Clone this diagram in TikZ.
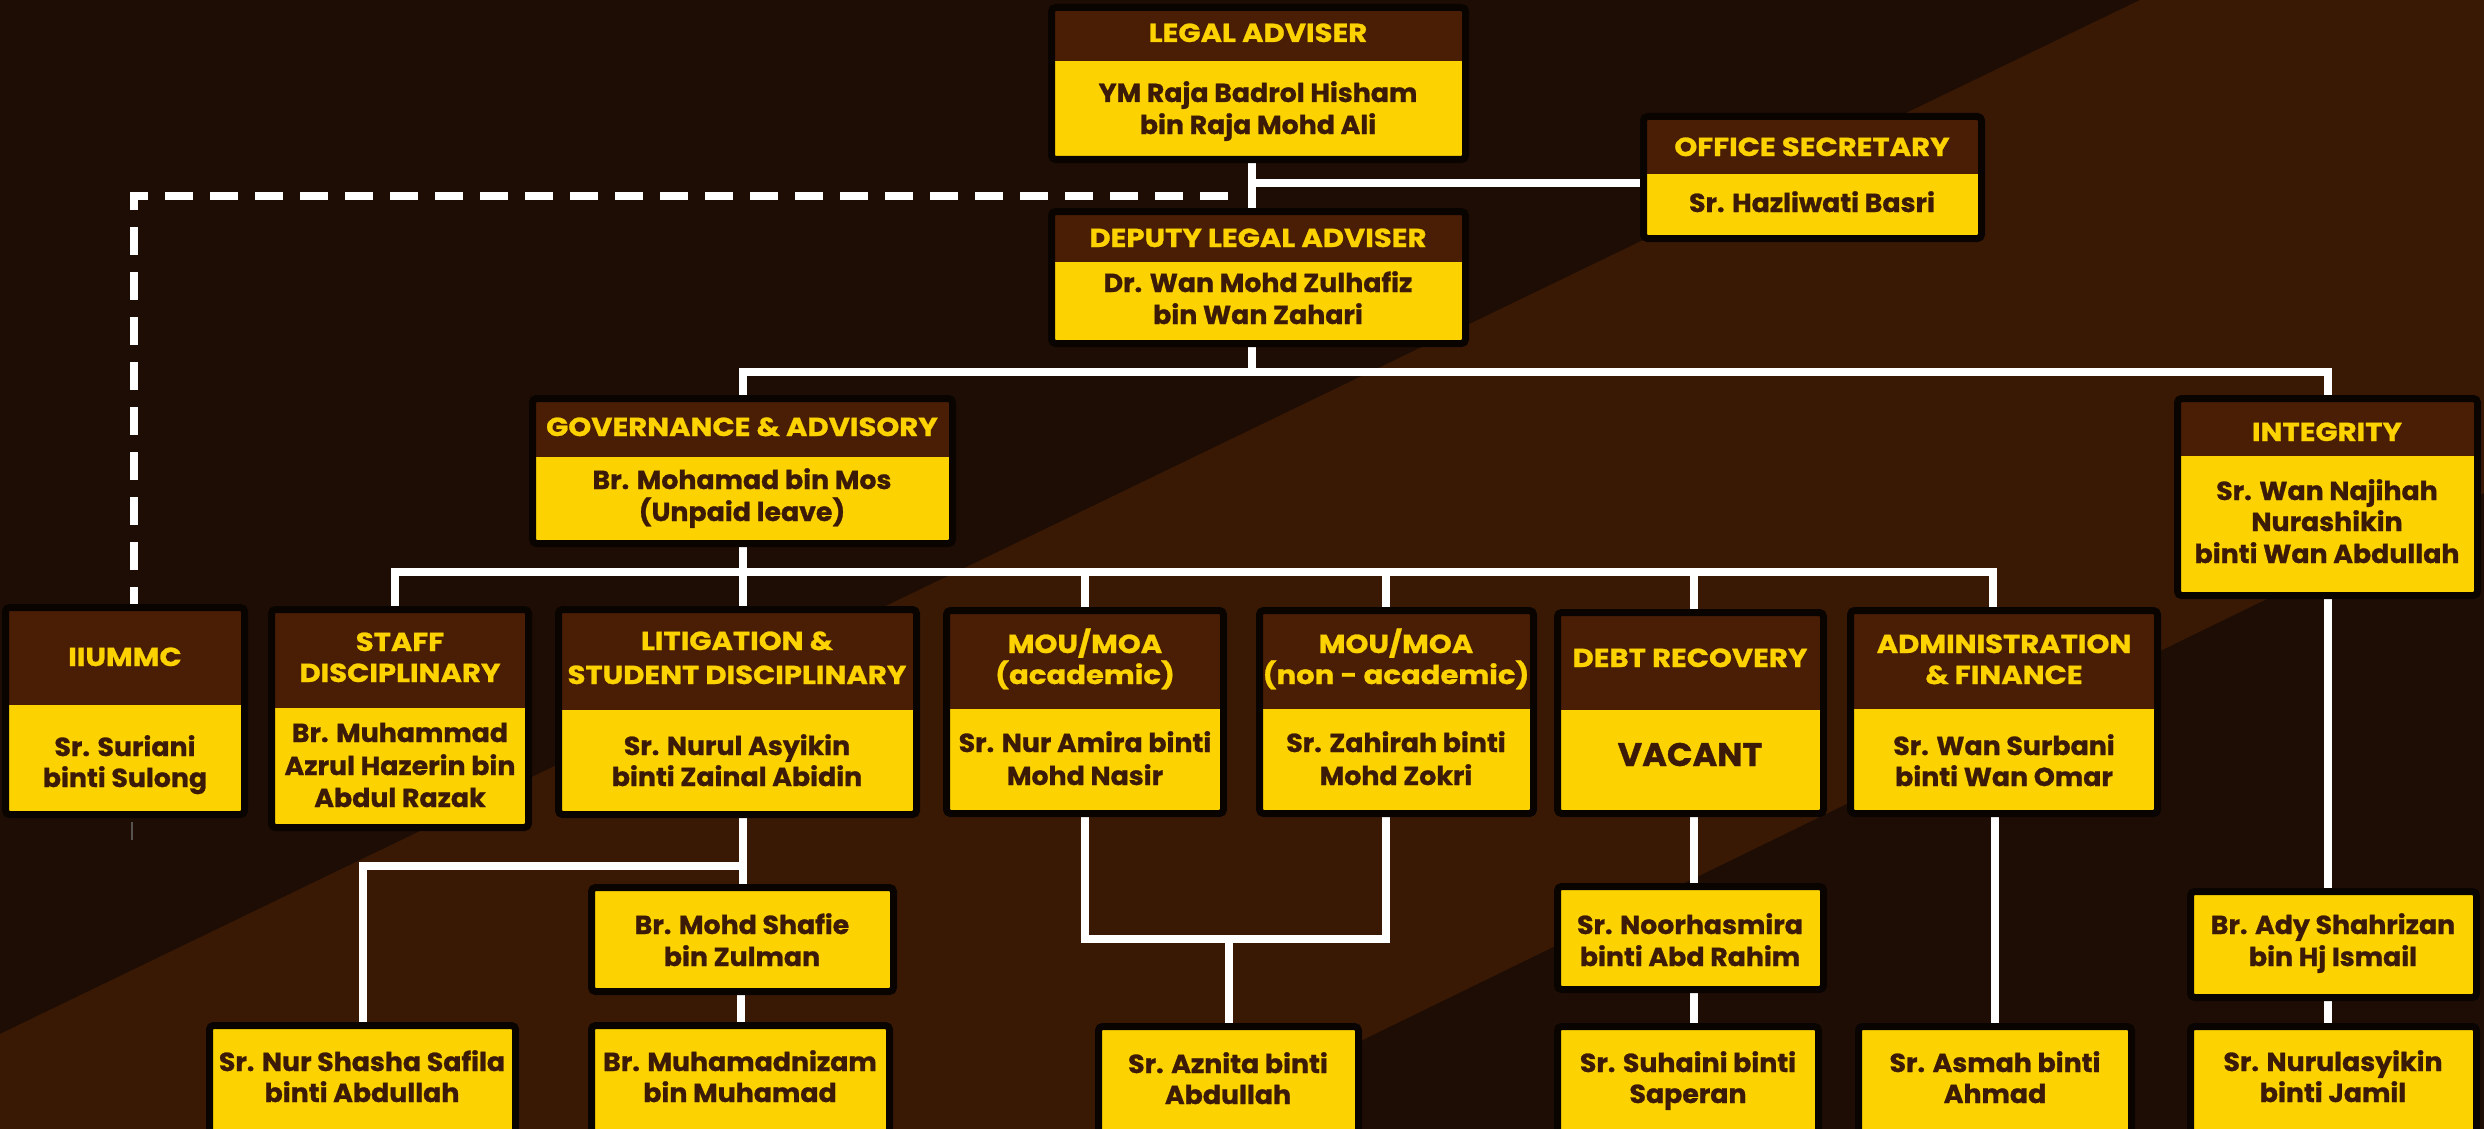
\documentclass[tikz,border=0pt]{standalone}
\usepackage{fontspec}
\setmainfont{Poppins}
\newfontfamily\hdrfont{Poppins}[FakeStretch=1.12, BoldFeatures={FakeBold=1}]
\newfontfamily\bodyfont{Poppins}[FakeStretch=1.03, BoldFeatures={FakeBold=1}]
\usetikzlibrary{fit}
\definecolor{bgdark}{HTML}{1E0D04}
\definecolor{bgband}{HTML}{3A1904}
\definecolor{hdrbrown}{HTML}{4A1D05}
\definecolor{boxyellow}{HTML}{FCD300}
\definecolor{txtbrown}{HTML}{3C1A08}
\definecolor{edgeblack}{HTML}{0A0401}
\pgfdeclarelayer{bglayer}
\pgfdeclarelayer{linelayer}
\pgfsetlayers{bglayer,linelayer,main}

\newcommand\orgbox[6]{%
  \node[inner sep=0pt, outer sep=0pt, fit={(#2+3.5,#3+3.5) (#4-3.5,#5-3.5)}] (#1) {};
  \fill[boxyellow, rounded corners=2pt] (#1.north west) rectangle (#1.south east);
  \fill[hdrbrown] (#2+3.5,#3+3.5) rectangle (#4-3.5,#6);
  \draw[edgeblack, line width=3.5pt, rounded corners=2pt] (#1.north west) rectangle (#1.south east);}
\newcommand\plainbox[5]{%
  \node[inner sep=0pt, outer sep=0pt, fit={(#2+3.5,#3+3.5) (#4-3.5,#5-3.5)}] (#1) {};
  \fill[boxyellow, rounded corners=2pt] (#1.north west) rectangle (#1.south east);
  \draw[edgeblack, line width=3.5pt, rounded corners=2pt] (#1.north west) rectangle (#1.south east);}

\tikzset{
  hdrtxt/.style={text=boxyellow, font=\hdrfont\bfseries\fontsize{13}{16}\selectfont, anchor=base, inner sep=0pt},
  bodytxt/.style={text=txtbrown, font=\bodyfont\bfseries\fontsize{13}{16}\selectfont, anchor=base, inner sep=0pt},
  bigtxt/.style={text=txtbrown, font=\bodyfont\bfseries\fontsize{16.3}{20}\selectfont, anchor=base, inner sep=0pt},
  conn/.style={draw=white, line width=4pt, line join=miter},
  dashconn/.style={draw=white, line width=4pt, dash pattern=on 14pt off 8.5pt},
}

\begin{document}
\begin{tikzpicture}[x=0.5pt,y=-0.5pt]
\useasboundingbox (0,0) rectangle (2484,1129);
\clip (0,0) rectangle (2484,1129);

\begin{pgfonlayer}{bglayer}
\fill[bgdark] (0,0) rectangle (2484,1129);
\fill[bgband] (2140,0) -- (2484,0) -- (2484,493) -- (1180,1129) -- (0,1129) -- (0,1034) -- cycle;
\draw[gray!60!bgdark, line width=0.6pt] (132,822) -- (132,840);
\end{pgfonlayer}

% top level
\orgbox{legal}{1048}{4}{1469}{163}{61}
\orgbox{deputy}{1048}{208}{1469}{347}{262}
\orgbox{sec}{1640}{113}{1985}{242}{174}
% second level
\orgbox{gov}{529}{395}{956}{547}{457}
\orgbox{integ}{2174}{395}{2481}{599}{456}
% third level
\orgbox{iiummc}{2}{604}{248}{818}{705}
\orgbox{staff}{268}{606}{532}{831}{708}
\orgbox{lit}{555}{606}{920}{818}{710}
\orgbox{moua}{943}{607}{1227}{817}{709}
\orgbox{moun}{1256}{607}{1537}{817}{709}
\orgbox{debt}{1554}{609}{1827}{817}{710}
\orgbox{admin}{1847}{607}{2161}{817}{709}
% lower levels
\plainbox{shafie}{588}{884}{897}{995}
\plainbox{shasha}{206}{1022}{519}{1150}
\plainbox{nizam}{588}{1022}{893}{1150}
\plainbox{aznita}{1095}{1023}{1362}{1150}
\plainbox{noor}{1554}{883}{1827}{993}
\plainbox{suhaini}{1554}{1023}{1822}{1150}
\plainbox{asmah}{1855}{1023}{2135}{1150}
\plainbox{ady}{2187}{888}{2480}{1001}
\plainbox{nurul}{2187}{1023}{2480}{1150}

% texts
\node[hdrtxt] (legal-h) at (1258,42) {LEGAL ADVISER};
\node[bodytxt] (legal-n1) at (1258,102) {YM Raja Badrol Hisham};
\node[bodytxt] (legal-n2) at (1258,134) {bin Raja Mohd Ali};

\node[hdrtxt] (dep-h) at (1258,247) {DEPUTY LEGAL ADVISER};
\node[bodytxt] (dep-n1) at (1258,292) {Dr. Wan Mohd Zulhafiz};
\node[bodytxt] (dep-n2) at (1258,324) {bin Wan Zahari};

\node[hdrtxt] (sec-h) at (1812,156) {OFFICE SECRETARY};
\node[bodytxt] (sec-n1) at (1812,212) {Sr. Hazliwati Basri};

\node[hdrtxt] (gov-h) at (742,436) {GOVERNANCE \& ADVISORY};
\node[bodytxt] (gov-n1) at (742,489) {Br. Mohamad bin Mos};
\node[bodytxt] (gov-n2) at (742,521) {(Unpaid leave)};

\node[hdrtxt] (integ-h) at (2327,441) {INTEGRITY};
\node[bodytxt] (integ-n1) at (2327,500) {Sr. Wan Najihah};
\node[bodytxt] (integ-n2) at (2327,531) {Nurashikin};
\node[bodytxt] (integ-n3) at (2327,563) {binti Wan Abdullah};

\node[hdrtxt] (iiummc-h) at (125,666) {IIUMMC};
\node[bodytxt] (iiummc-n1) at (125,756) {Sr. Suriani};
\node[bodytxt] (iiummc-n2) at (125,787) {binti Sulong};

\node[hdrtxt] (staff-h1) at (400,651) {STAFF};
\node[hdrtxt] (staff-h2) at (400,682) {DISCIPLINARY};
\node[bodytxt] (staff-n1) at (400,742) {Br. Muhammad};
\node[bodytxt] (staff-n2) at (400,775) {Azrul Hazerin bin};
\node[bodytxt] (staff-n3) at (400,807) {Abdul Razak};

\node[hdrtxt] (lit-h1) at (737,650) {LITIGATION \&};
\node[hdrtxt] (lit-h2) at (737,684) {STUDENT DISCIPLINARY};
\node[bodytxt] (lit-n1) at (737,755) {Sr. Nurul Asyikin};
\node[bodytxt] (lit-n2) at (737,786) {binti Zainal Abidin};

\node[hdrtxt] (moua-h1) at (1085,653) {MOU/MOA};
\node[hdrtxt] (moua-h2) at (1085,684) {(academic)};
\node[bodytxt] (moua-n1) at (1085,752) {Sr. Nur Amira binti};
\node[bodytxt] (moua-n2) at (1085,785) {Mohd Nasir};

\node[hdrtxt] (moun-h1) at (1396,653) {MOU/MOA};
\node[hdrtxt] (moun-h2) at (1396,684) {(non - academic)};
\node[bodytxt] (moun-n1) at (1396,752) {Sr. Zahirah binti};
\node[bodytxt] (moun-n2) at (1396,785) {Mohd Zokri};

\node[hdrtxt] (debt-h) at (1690,667) {DEBT RECOVERY};
\node[bigtxt] (debt-n) at (1690,766) {VACANT};

\node[hdrtxt] (admin-h1) at (2004,653) {ADMINISTRATION};
\node[hdrtxt] (admin-h2) at (2004,684) {\& FINANCE};
\node[bodytxt] (admin-n1) at (2004,755) {Sr. Wan Surbani};
\node[bodytxt] (admin-n2) at (2004,786) {binti Wan Omar};

\node[bodytxt] (shafie-n1) at (742,934) {Br. Mohd Shafie};
\node[bodytxt] (shafie-n2) at (742,966) {bin Zulman};
\node[bodytxt] (shasha-n1) at (362,1071) {Sr. Nur Shasha Safila};
\node[bodytxt] (shasha-n2) at (362,1102) {binti Abdullah};
\node[bodytxt] (nizam-n1) at (740,1071) {Br. Muhamadnizam};
\node[bodytxt] (nizam-n2) at (740,1102) {bin Muhamad};
\node[bodytxt] (aznita-n1) at (1228,1073) {Sr. Aznita binti};
\node[bodytxt] (aznita-n2) at (1228,1104) {Abdullah};
\node[bodytxt] (noor-n1) at (1690,934) {Sr. Noorhasmira};
\node[bodytxt] (noor-n2) at (1690,966) {binti Abd Rahim};
\node[bodytxt] (suhaini-n1) at (1688,1072) {Sr. Suhaini binti};
\node[bodytxt] (suhaini-n2) at (1688,1103) {Saperan};
\node[bodytxt] (asmah-n1) at (1995,1072) {Sr. Asmah binti};
\node[bodytxt] (asmah-n2) at (1995,1103) {Ahmad};
\node[bodytxt] (ady-n1) at (2333,934) {Br. Ady Shahrizan};
\node[bodytxt] (ady-n2) at (2333,966) {bin Hj Ismail};
\node[bodytxt] (nurul-n1) at (2333,1071) {Sr. Nurulasyikin};
\node[bodytxt] (nurul-n2) at (2333,1102) {binti Jamil};

% connectors
\begin{pgfonlayer}{linelayer}
\coordinate (bus1) at (0,372);
\coordinate (bus2) at (0,572);
\coordinate (bus3) at (0,866);
\coordinate (bus4) at (0,939);
\coordinate (dashend) at (1228,196);
\coordinate (spine) at ([xshift=-3.25pt]legal.south);
\coordinate (secin) at ([yshift=-2.75pt]sec.west);
\draw[conn] (spine) -- (spine |- deputy.north);
\draw[conn] (secin) -- (secin -| spine);
\draw[dashconn] (dashend) -| ([xshift=4.5pt]iiummc.north);
\draw[conn] (spine |- deputy.south) -- (spine |- bus1);
\draw[conn] (gov.north) -- (gov.north |- bus1) -- (integ.north |- bus1) -- (integ.north);
\draw[conn] (gov.south) -- (gov.south |- lit.north);
\draw[conn] ([xshift=-2.5pt]staff.north) -- ([xshift=-2.5pt]staff.north |- bus2) -- ([xshift=-5.5pt]admin.north |- bus2) -- ([xshift=-5.5pt]admin.north);
\draw[conn] (moua.north) -- (moua.north |- bus2);
\draw[conn] ([xshift=-5.5pt]moun.north) -- ([xshift=-5.5pt]moun.north |- bus2);
\draw[conn] ([xshift=1.75pt]debt.north) -- ([xshift=1.75pt]debt.north |- bus2);
\draw[conn] (shafie.north |- lit.south) -- (shafie.north);
\draw[conn] (shafie.north |- bus3) -| (shasha.north);
\draw[conn] (nizam.north |- shafie.south) -- (nizam.north);
\draw[conn] (moua.south) |- ([xshift=-5.5pt]moun.south |- bus4) -- ([xshift=-5.5pt]moun.south);
\draw[conn] (aznita.north) -- (aznita.north |- bus4);
\draw[conn] ([xshift=1.75pt]noor.north |- debt.south) -- ([xshift=1.75pt]noor.north);
\draw[conn] ([xshift=1.75pt]noor.south) -- ([xshift=1.75pt]noor.south |- suhaini.north);
\draw[conn] (asmah.north |- admin.south) -- (asmah.north);
\draw[conn] (integ.south) -- (integ.south |- ady.north);
\draw[conn] (integ.south |- ady.south) -- (integ.south |- nurul.north);
\end{pgfonlayer}
\end{tikzpicture}
\end{document}
